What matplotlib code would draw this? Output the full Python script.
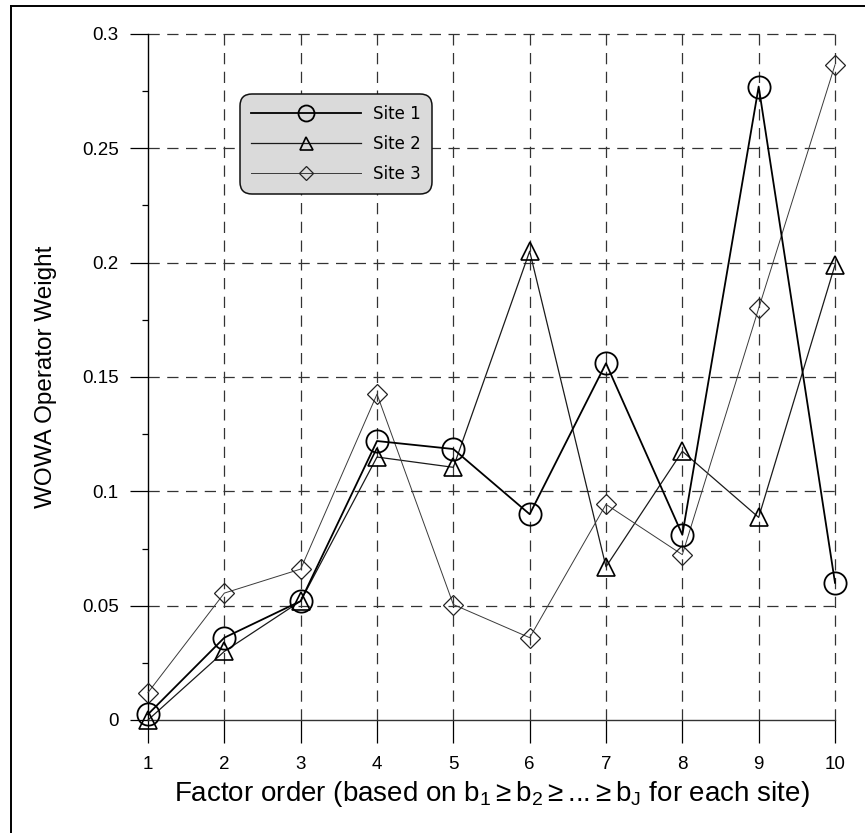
import matplotlib
matplotlib.use("Agg")
import matplotlib.pyplot as plt
from matplotlib.ticker import FixedLocator
from matplotlib.lines import Line2D

plt.rcParams['font.family'] = ['Liberation Sans', 'DejaVu Sans']
plt.rcParams['mathtext.fontset'] = 'custom'
plt.rcParams['mathtext.rm'] = 'Liberation Sans'
plt.rcParams['mathtext.it'] = 'Liberation Sans:italic'

factor_order = [1, 2, 3, 4, 5, 6, 7, 8, 9, 10]
site1 = [0.0025, 0.036, 0.052, 0.122, 0.1185, 0.090, 0.156, 0.081, 0.277, 0.060]
site2 = [0.000, 0.030, 0.052, 0.115, 0.1105, 0.205, 0.067, 0.1175, 0.0886, 0.199]
site3 = [0.012, 0.0555, 0.066, 0.1425, 0.0505, 0.036, 0.0943, 0.0723, 0.180, 0.2865]
labels = ["Site 1", "Site 2", "Site 3"]
yticks = [0, 0.05, 0.1, 0.15, 0.2, 0.25, 0.3]
ytick_labels = ["0", "0.05", "0.1", "0.15", "0.2", "0.25", "0.3"]

W, H = 865, 833
fig = plt.figure(figsize=(W / 100, H / 100), dpi=100)
left, right, top, bottom = 148, 835, 34, 720
ax = fig.add_axes([left / W, 1 - bottom / H, (right - left) / W, (bottom - top) / H])

ax.set_xlim(1, 10)
ax.set_ylim(0, 0.3)

# grid
for x in factor_order[1:]:
    ax.plot([x, x], [0, 0.3], color='#333333', lw=0.9, dashes=(9, 6), zorder=1, clip_on=False)
for y in yticks[1:]:
    ax.plot([1, 10], [y, y], color='#333333', lw=0.9, dashes=(9, 6), zorder=1, clip_on=False)

ax.plot(factor_order, site1, color='black', lw=1.3, marker='o', ms=16, mfc='none',
        mec='black', mew=1.3, clip_on=False, zorder=4, label=labels[0])
ax.plot(factor_order, site2, color='#1a1a1a', lw=0.9, marker='^', ms=13, mfc='none',
        mec='black', mew=1.2, clip_on=False, zorder=3, label=labels[1])
ax.plot(factor_order, site3, color='#3a3a3a', lw=0.7, marker='D', ms=10.5, mfc='none',
        mec='#222222', mew=0.9, clip_on=False, zorder=3, label=labels[2])

for s in ['top', 'right']:
    ax.spines[s].set_visible(False)
ax.spines['left'].set_linewidth(1.0)
ax.spines['bottom'].set_linewidth(1.0)
ax.spines['bottom'].set_color('#333333')

ax.set_xticks(factor_order)
ax.set_xticklabels([str(v) for v in factor_order])
ax.set_yticks(yticks)
ax.set_yticklabels(ytick_labels)
ax.yaxis.set_minor_locator(FixedLocator([0.025, 0.075, 0.125, 0.175, 0.225, 0.275]))
ax.tick_params(axis='x', which='major', direction='out', length=16.5, width=0.9, pad=9.5,
               labelsize=13.5)
ax.tick_params(axis='y', which='major', direction='out', length=13, width=0.9, pad=8,
               labelsize=13.5)
ax.tick_params(axis='y', which='minor', direction='out', length=4.5, width=0.9)

ax.set_xlabel(r'Factor order (based on b$_1$$\geq$b$_2$$\geq$...$\geq$b$_\mathrm{J}$ for each site)',
              fontsize=20)
ax.xaxis.set_label_coords(0.5, -0.086)
ax.set_ylabel('WOWA Operator Weight', fontsize=17.5)
ax.yaxis.set_label_coords(-0.1325, 0.5)

leg = ax.legend(loc='upper left', bbox_to_anchor=(240 / W, 1 - 94 / H),
                bbox_transform=fig.transFigure, borderaxespad=0,
                prop={'family': 'DejaVu Sans', 'size': 12},
                handlelength=6.6, handletextpad=0.75, labelspacing=0.72, borderpad=0.65,
                fancybox=True, framealpha=1, markerscale=0.72)
frame = leg.get_frame()
frame.set_facecolor('#dadada')
frame.set_edgecolor('#111111')
frame.set_linewidth(1.1)
frame.set_boxstyle('round', pad=0, rounding_size=0.7)

# outer frame (left and top)
fig.add_artist(Line2D([11 / W, 11 / W], [0, 1 - 6 / H], color='black', lw=1.4,
                      transform=fig.transFigure))
fig.add_artist(Line2D([11 / W, 1], [1 - 6 / H, 1 - 6 / H], color='black', lw=1.4,
                      transform=fig.transFigure))

fig.savefig('out.png', dpi=100)
